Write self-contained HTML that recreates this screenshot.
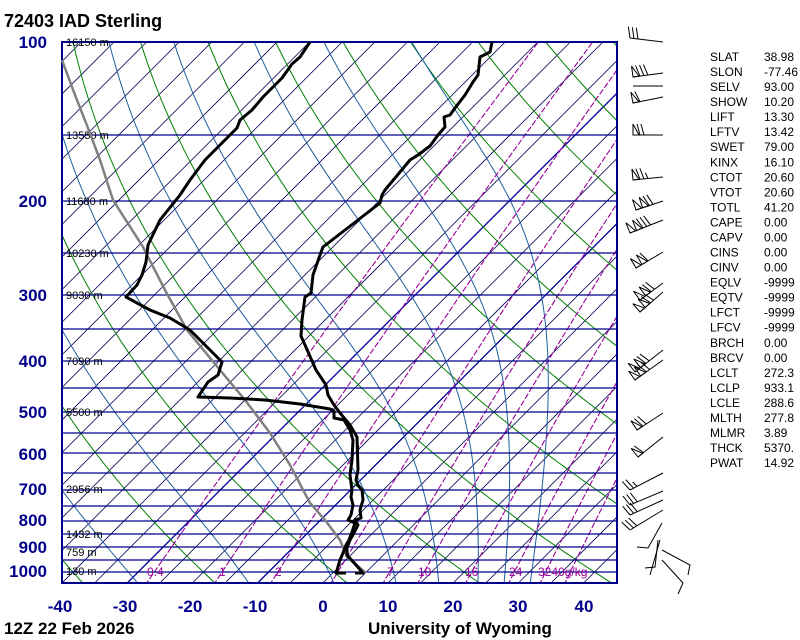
<!DOCTYPE html>
<html><head><meta charset="utf-8">
<style>
html,body{margin:0;padding:0;background:#fff;}
svg{display:block;font-family:"Liberation Sans",sans-serif;}
.pl{font-size:17px;font-weight:bold;fill:#00008b;}
.st{font-size:12px;fill:#000;}
.hl{font-size:11px;fill:#000;}
.mr{font-size:12px;fill:#990099;}
</style></head>
<body>
<svg id="s" width="800" height="640" viewBox="0 0 800 640" xmlns="http://www.w3.org/2000/svg">
<defs><clipPath id="c"><rect x="62" y="42" width="555" height="541"/></clipPath></defs>
<g id="bg" clip-path="url(#c)"></g>
<g id="hz"></g>
<rect x="62" y="42" width="555" height="541" fill="none" stroke="#00008b" stroke-width="2"/>
<g class="hl">
<text x="66" y="46">16150 m</text>
<text x="66" y="139">13550 m</text>
<text x="66" y="205">11680 m</text>
<text x="66" y="257">10230 m</text>
<text x="66" y="299">9030 m</text>
<text x="66" y="365">7090 m</text>
<text x="66" y="416">5500 m</text>
<text x="66" y="493">2956 m</text>
<text x="66" y="538">1432 m</text>
<text x="66" y="556">759 m</text>
<text x="66" y="575">130 m</text>
</g>
<g class="mr">
<text x="147" y="576">0.4</text>
<text x="219" y="576">1</text>
<text x="275" y="576">2</text>
<text x="387" y="576">7</text>
<text x="418" y="576">10</text>
<text x="465" y="576">16</text>
<text x="509" y="576">24</text>
<text x="538" y="576">3240g/kg</text>
</g>
<polyline fill="none" stroke="#808080" stroke-width="2.5" points="62,60 75,95 88,128 100,160 113,200 143,247 165,290 187,330 220,370 245,400 270,433 290,465 310,503 325,520 340,540 347,557 366,573"/>
<polyline fill="none" stroke="#000" stroke-width="3" stroke-linejoin="round" points="310,42 300,57 292,64 282,78 272,88 263,97 252,110 240,120 237,128 225,140 205,160 190,180 180,195 168,210 160,220 148,245 146,262 142,275 137,285 126,297 150,310 170,318 190,330 205,345 222,362 218,375 208,382 198,397 230,398 265,400 300,404 330,409 334,411 334,418 344,420 350,430 353,440 352,460 350,475 352,490 351,497 353,505 351,515 348,520 355,523 352,532 349,540 346,545 343,553 340,560 337,570 336,573 346,573"/>
<polyline fill="none" stroke="#000" stroke-width="3" stroke-linejoin="round" points="492,42 490,52 480,57 478,75 473,82 465,95 455,108 450,115 444,117 445,127 438,135 430,146 418,155 410,160 400,172 385,190 382,195 380,203 323,247 320,255 313,275 311,293 305,297 302,320 301,336 305,345 316,370 326,385 328,395 334,405 340,413 350,425 357,437 358,470 356,480 358,485 362,490 363,500 360,510 361,518 355,520 358,525 354,533 350,540 347,548 347,555 356,565 363,573 355,573"/>
<g id="wb" stroke="#000" stroke-width="1" fill="none"></g>
<g stroke="#000" stroke-width="1" fill="none">
<polyline points="662,523 648,548 637,547"/>
<polyline points="658,540 655,567 645,568"/>
<polyline points="660,540 650,575"/>
<polyline points="662,550 690,565 688,575"/>
<polyline points="662,560 683,583 678,594"/>
</g>
<text x="4" y="27" style="font-size:18px;font-weight:bold">72403 IAD Sterling</text>
<g class="pl" text-anchor="end">
<text x="47" y="48">100</text><text x="47" y="207">200</text><text x="47" y="301">300</text><text x="47" y="367">400</text><text x="47" y="418">500</text><text x="47" y="460">600</text><text x="47" y="495">700</text><text x="47" y="526">800</text><text x="47" y="553">900</text><text x="47" y="577">1000</text>
</g>
<g class="pl" text-anchor="middle">
<text x="60" y="612">-40</text><text x="125" y="612">-30</text><text x="190" y="612">-20</text><text x="255" y="612">-10</text><text x="323" y="612">0</text><text x="388" y="612">10</text><text x="453" y="612">20</text><text x="518" y="612">30</text><text x="584" y="612">40</text>
</g>
<text x="4" y="634" style="font-size:17px;font-weight:bold">12Z 22 Feb 2026</text>
<text x="368" y="634" style="font-size:17px;font-weight:bold">University of Wyoming</text>
<g class="st" id="stats"></g>
</svg>
<script>
function yP(p){return 42+230.2*Math.log(p/100);}
function xT(T,y){return 62+(T+40)*6.52+(583-y);}
var bg="";
for(var T=-150;T<=60;T+=5){var x1=xT(T,583),x2=xT(T,42);
var thick=(T==-30||T==-10);
bg+='<line x1="'+x1+'" y1="583" x2="'+x2+'" y2="42" stroke="'+(thick?'#00009a':'#000050')+'" stroke-width="'+(thick?1.3:0.8)+'"/>';}
for(var th=-40;th<=220;th+=20){var pts=[];for(var p=1060;p>=95;p-=10){var y=yP(p);var T=(th+273.15)*Math.pow(p/1000,0.2857)-273.15;pts.push(xT(T,y).toFixed(1)+','+y.toFixed(1));}
bg+='<polyline fill="none" stroke="#008000" stroke-width="1" points="'+pts.join(' ')+'"/>';}
function es(T){return 6.112*Math.exp(17.67*T/(T+243.5));}
var starts=[-28,-11,2,11.5,18,24,28,32];
starts.forEach(function(T0){var p=1055,T=T0,pts=[];
while(p>=100){var y=yP(p);pts.push(xT(T,y).toFixed(1)+','+y.toFixed(1));
var Tk=T+273.15;var e=es(T);var rs=0.622*e/(p-e);var Lv=2.5e6,Rd=287,cp=1005;
var dTdp=(Rd*Tk+Lv*rs)/(p*(cp+Lv*Lv*rs*0.622/(Rd*Tk*Tk)));var dp=5;T-=dTdp*dp;p-=dp;if(T<-140)break;}
bg+='<polyline fill="none" stroke="#1f5fa0" stroke-width="1" points="'+pts.join(' ')+'"/>';});
[0.4,1,2,4,7,10,16,24,32,40].forEach(function(wv){var pts=[];for(var p=1060;p>=95;p-=10){var e=wv*p/(622+wv);var l=Math.log(e/6.112);var T=243.5*l/(17.67-l);var y=yP(p);pts.push(xT(T,y).toFixed(1)+','+y.toFixed(1));}
bg+='<polyline fill="none" stroke="#990099" stroke-width="1.1" stroke-dasharray="6,2" points="'+pts.join(' ')+'"/>';});
document.getElementById('bg').innerHTML=bg;
var hz="";[42,135,201,253,295,329,361,388,412,433,453,473,490,506,521,534,547,560,572].forEach(function(y){hz+='<line x1="62" y1="'+y+'" x2="617" y2="'+y+'" stroke="#00008b" stroke-width="1.3"/>';});
document.getElementById('hz').innerHTML=hz;
function barb(ax,ay,tx,ty,nf,nfull,half){var L=Math.hypot(tx-ax,ty-ay);var ux=(tx-ax)/L,uy=(ty-ay)/L;var nx=uy,ny=-ux;if(ny>0){nx=-nx;ny=-ny;}
var s='<line x1="'+ax+'" y1="'+ay+'" x2="'+tx+'" y2="'+ty+'"/>';var d=0;
for(var i=0;i<nf;i++){var px=tx-ux*d,py=ty-uy*d,qx=tx-ux*(d+6),qy=ty-uy*(d+6);
s+='<polygon points="'+px+','+py+' '+(px+nx*11)+','+(py+ny*11)+' '+qx+','+qy+'"/>';d+=7;}
for(var j=0;j<nfull;j++){var px=tx-ux*d,py=ty-uy*d;s+='<line x1="'+px+'" y1="'+py+'" x2="'+(px+nx*11+ux*3)+'" y2="'+(py+ny*11+uy*3)+'"/>';d+=4;}
if(half){var px=tx-ux*d,py=ty-uy*d;s+='<line x1="'+px+'" y1="'+py+'" x2="'+(px+nx*6+ux*2)+'" y2="'+(py+ny*6+uy*2)+'"/>';}
return s;}
var B=[[42,630,38,0,3,0],[73,633,77,1,3,0],[86,633,86,0,0,0],[97,633,103,1,1,0],[135,633,135,1,2,0],[177,633,180,1,2,1],[201,636,210,2,2,0],[220,630,233,2,3,0],[252,636,268,2,1,0],[283,640,300,2,2,0],[292,640,312,2,2,0],[350,635,372,2,2,0],[360,635,380,2,2,0],[413,637,430,1,2,0],[437,638,457,1,1,0],[473,630,490,0,2,1],[491,630,505,0,3,0],[500,630,515,0,3,0],[510,630,530,0,3,0]];
var wb="";B.forEach(function(b){wb+=barb(663,b[0],b[1],b[2],b[3],b[4],b[5]);});
document.getElementById('wb').innerHTML=wb;
var names=["SLAT","SLON","SELV","SHOW","LIFT","LFTV","SWET","KINX","CTOT","VTOT","TOTL","CAPE","CAPV","CINS","CINV","EQLV","EQTV","LFCT","LFCV","BRCH","BRCV","LCLT","LCLP","LCLE","MLTH","MLMR","THCK","PWAT"];
var vals=["38.98","-77.46","93.00","10.20","13.30","13.42","79.00","16.10","20.60","20.60","41.20","0.00","0.00","0.00","0.00","-9999","-9999","-9999","-9999","0.00","0.00","272.3","933.1","288.6","277.8","3.89","5370.","14.92"];
var st="";names.forEach(function(n,i){var y=61+i*15.04;st+='<text x="710" y="'+y.toFixed(1)+'">'+n+'</text><text x="764" y="'+y.toFixed(1)+'">'+vals[i]+'</text>';});
document.getElementById('stats').innerHTML=st;
</script>
</body></html>
